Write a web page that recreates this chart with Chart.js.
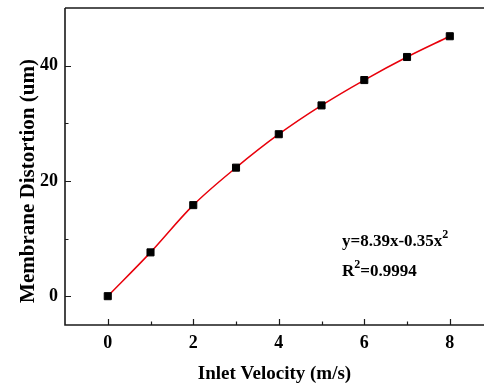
<!DOCTYPE html>
<html>
<head>
<meta charset="utf-8">
<script src="https://cdn.jsdelivr.net/npm/chart.js@4"></script>
<style>
html,body{margin:0;padding:0;background:#fff;overflow:hidden;}
#c{display:block;}
</style>
</head>
<body>
<canvas id="c" width="484" height="385"></canvas>
<script>
const velocities = [0, 1, 2, 3, 4, 5, 6, 7, 8];
const distortion = [0, 7.6, 15.8, 22.3, 28.1, 33.1, 37.5, 41.5, 45.1];
const xMajorTicks = [0, 2, 4, 6, 8];
const xMinorTicks = [1, 3, 5, 7];
const yMajorTicks = [0, 20, 40];
const yMinorTicks = [10, 30];
const xTitle = 'Inlet Velocity (m/s)';
const yTitle = 'Membrane Distortion (um)';
const fitEquation = ['y=8.39x-0.35x', '2'];
const fitR2 = ['R', '2', '=0.9994'];

const FONT = "'Liberation Serif','Times New Roman',serif";
const AXIS = '#1a1a1a';

function noPad(s) {
  s.paddingTop = 0; s.paddingBottom = 0; s.paddingLeft = 0; s.paddingRight = 0;
}

const framePlugin = {
  id: 'frame',
  afterDatasetsDraw(chart) {
    const {ctx, chartArea: a, scales: {x, y}} = chart;
    ctx.save();
    ctx.strokeStyle = AXIS;
    ctx.lineWidth = 1.6;
    ctx.beginPath();
    ctx.moveTo(a.left, a.top); ctx.lineTo(a.right, a.top);
    ctx.moveTo(a.left, a.top); ctx.lineTo(a.left, a.bottom);
    ctx.moveTo(a.left - 0.8, a.bottom); ctx.lineTo(a.right, a.bottom);
    ctx.stroke();
    ctx.lineWidth = 1.2;
    ctx.beginPath();
    xMajorTicks.forEach(v => { const p = Math.round(x.getPixelForValue(v)) + 0.5; ctx.moveTo(p, a.bottom); ctx.lineTo(p, a.bottom - 6); });
    xMinorTicks.forEach(v => { const p = Math.round(x.getPixelForValue(v)) + 0.5; ctx.moveTo(p, a.bottom); ctx.lineTo(p, a.bottom - 3.5); });
    yMajorTicks.forEach(v => { const p = Math.round(y.getPixelForValue(v)) + 0.5; ctx.moveTo(a.left, p); ctx.lineTo(a.left + 6, p); });
    yMinorTicks.forEach(v => { const p = Math.round(y.getPixelForValue(v)) + 0.5; ctx.moveTo(a.left, p); ctx.lineTo(a.left + 3.5, p); });
    ctx.stroke();

    ctx.fillStyle = '#000';
    // y axis title
    ctx.save();
    ctx.translate(a.left - 36, a.top + 173);
    ctx.rotate(-Math.PI / 2);
    ctx.font = 'bold 21px ' + FONT;
    ctx.textAlign = 'center';
    ctx.textBaseline = 'middle';
    ctx.fillText(yTitle, 0, 0);
    ctx.restore();

    // fit annotation
    ctx.textBaseline = 'alphabetic';
    ctx.textAlign = 'left';
    const tx = a.left + 277;
    const b1 = a.top + 238;
    ctx.font = 'bold 17px ' + FONT;
    ctx.fillText(fitEquation[0], tx, b1);
    let w = ctx.measureText(fitEquation[0]).width;
    ctx.font = 'bold 12px ' + FONT;
    ctx.fillText(fitEquation[1], tx + w, b1 - 8);
    const b2 = a.top + 268;
    ctx.font = 'bold 17px ' + FONT;
    ctx.fillText(fitR2[0], tx, b2);
    w = ctx.measureText(fitR2[0]).width;
    ctx.font = 'bold 12px ' + FONT;
    ctx.fillText(fitR2[1], tx + w, b2 - 8);
    const w2 = ctx.measureText(fitR2[1]).width;
    ctx.font = 'bold 17px ' + FONT;
    ctx.fillText(fitR2[2], tx + w + w2, b2);
    ctx.restore();
  }
};

new Chart(document.getElementById('c'), {
  type: 'scatter',
  data: {
    datasets: [{
      data: velocities.map((v, i) => ({x: v, y: distortion[i]})),
      showLine: true,
      borderColor: '#e8000b',
      borderWidth: 1.5,
      tension: 0.35,
      pointStyle: 'rect',
      pointRadius: 5,
      pointBackgroundColor: '#000',
      pointBorderColor: '#000',
      pointBorderWidth: 1
    }]
  },
  options: {
    responsive: false,
    animation: false,
    events: [],
    layout: {autoPadding: false, padding: {top: 8, left: 0, right: 0, bottom: 0}},
    plugins: {legend: {display: false}, tooltip: {enabled: false}},
    scales: {
      x: {
        type: 'linear', min: -1, max: 8.8,
        afterFit(s) { s.height = 60; noPad(s); },
        grid: {display: false, drawTicks: false},
        border: {display: false},
        ticks: {
          stepSize: 2, includeBounds: false, padding: 8, color: '#000',
          font: {family: FONT, size: 18, weight: 'bold'},
          callback: v => xMajorTicks.includes(v) ? String(v) : ''
        },
        title: {display: true, text: xTitle, color: '#000', padding: {top: 10, bottom: 0},
          font: {family: FONT, size: 19, weight: 'bold'}}
      },
      y: {
        type: 'linear', min: -5, max: 50,
        afterFit(s) { s.width = 65; noPad(s); },
        grid: {display: false, drawTicks: false},
        border: {display: false},
        ticks: {
          stepSize: 20, includeBounds: false, padding: 7, color: '#000',
          font: {family: FONT, size: 18, weight: 'bold'},
          callback: v => yMajorTicks.includes(v) ? String(v) : ''
        },
        title: {display: false}
      }
    }
  },
  plugins: [framePlugin]
});
</script>
</body>
</html>
